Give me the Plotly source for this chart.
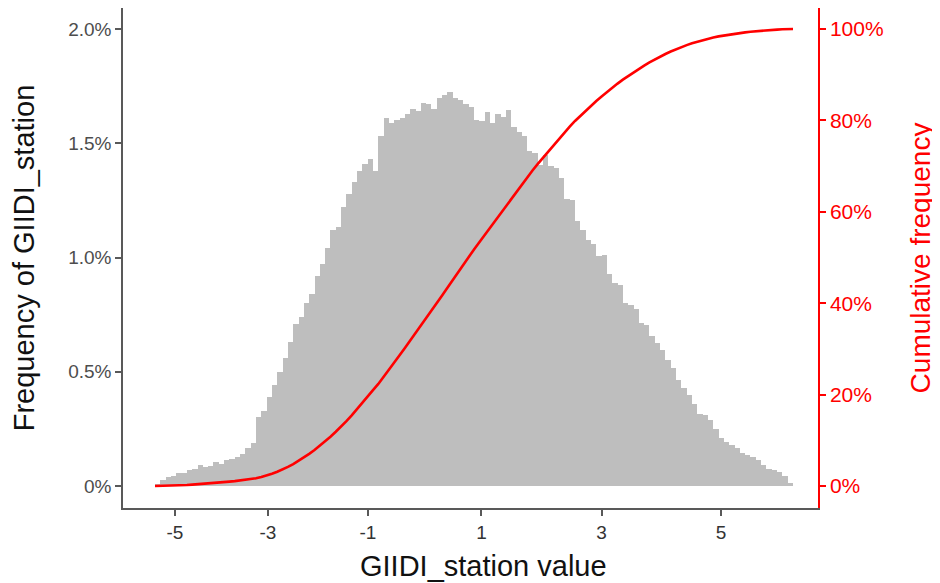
import plotly.graph_objects as go

# Histogram bin frequencies (%), left to right
FREQ = [
    0.010, 0.026, 0.038, 0.045, 0.055, 0.058, 0.070, 0.074, 0.090, 0.085,
    0.088, 0.106, 0.098, 0.114, 0.120, 0.126, 0.140, 0.165, 0.190, 0.300,
    0.330, 0.390, 0.440, 0.500, 0.560, 0.630, 0.710, 0.740, 0.800, 0.840,
    0.920, 0.970, 1.040, 1.120, 1.135, 1.220, 1.280, 1.330, 1.380, 1.410,
    1.430, 1.380, 1.530, 1.610, 1.590, 1.600, 1.610, 1.630, 1.650, 1.640,
    1.675, 1.670, 1.650, 1.700, 1.710, 1.725, 1.700, 1.690, 1.670, 1.660,
    1.600, 1.597, 1.638, 1.590, 1.630, 1.616, 1.645, 1.572, 1.550, 1.530,
    1.465, 1.456, 1.405, 1.449, 1.400, 1.390, 1.350, 1.255, 1.250, 1.160,
    1.120, 1.075, 1.060, 1.005, 1.010, 0.930, 0.890, 0.880, 0.800, 0.792,
    0.775, 0.715, 0.705, 0.655, 0.625, 0.595, 0.550, 0.515, 0.465, 0.430,
    0.400, 0.360, 0.315, 0.310, 0.290, 0.250, 0.210, 0.194, 0.180, 0.165,
    0.145, 0.136, 0.128, 0.112, 0.090, 0.075, 0.070, 0.063, 0.045, 0.015,
]

# x-axis tick labels and the bin index at which each sits
TICK_LABELS = ["-5", "-3", "-1", "1", "3", "5"]
TICK_POSITIONS = [3.26, 20.75, 39.56, 60.9, 83.48, 105.95]

LEFT_TICKS = [0, 0.5, 1.0, 1.5, 2.0]
LEFT_TICK_LABELS = ["0%", "0.5%", "1.0%", "1.5%", "2.0%"]
RIGHT_TICKS = [0, 20, 40, 60, 80, 100]
RIGHT_TICK_LABELS = ["0%", "20%", "40%", "60%", "80%", "100%"]

n = len(FREQ)
bins = list(range(n))
total = sum(FREQ)
cum = [0.0]
running = 0.0
for v in FREQ:
    running += v
    cum.append(running / total * 100)
cum_x = [-0.5] + [i + 0.5 for i in bins]

fig = go.Figure()
fig.add_trace(go.Bar(
    x=bins, y=FREQ, width=1.0,
    marker=dict(color="#BEBEBE", line=dict(width=0)),
    showlegend=False, hoverinfo="x+y",
))
fig.add_trace(go.Scatter(
    x=cum_x, y=cum, mode="lines", yaxis="y2",
    line=dict(color="#FF0000", width=2.6),
    showlegend=False,
))

font_family = "Liberation Sans, Arial, sans-serif"
fig.update_layout(
    width=940, height=583,
    margin=dict(l=115, r=130, t=0, b=83, autoexpand=False),
    paper_bgcolor="white", plot_bgcolor="white",
    bargap=0,
    font=dict(family=font_family, size=19, color="#4D4D4D"),
    xaxis=dict(
        range=[-6.52, 124.2], automargin=False,
        tickmode="array", tickvals=TICK_POSITIONS, ticktext=TICK_LABELS,
        showgrid=False, zeroline=False,
        showline=True, linecolor="#595959", linewidth=1.5, mirror=True,
        ticks="outside", ticklen=6, tickcolor="#595959", tickwidth=1.5,
        tickfont=dict(size=19, color="#333333"),
    ),
    yaxis=dict(
        range=[-0.0963, 2.092], automargin=False,
        tickmode="array", tickvals=LEFT_TICKS, ticktext=LEFT_TICK_LABELS,
        showgrid=False, zeroline=False,
        showline=True, linecolor="#595959", linewidth=1.5, mirror=True,
        ticks="outside", ticklen=6, tickcolor="#595959", tickwidth=1.5,
        tickfont=dict(size=19, color="#4D4D4D"),
        title=dict(text="Frequency of GIIDI_station", font=dict(size=29, color="#111111"), standoff=30),
    ),
    yaxis2=dict(
        range=[-4.815, 104.6], automargin=False,
        overlaying="y", side="right",
        tickmode="array", tickvals=RIGHT_TICKS, ticktext=RIGHT_TICK_LABELS,
        showgrid=False, zeroline=False,
        showline=True, linecolor="#FF0000", linewidth=1.5,
        ticks="outside", ticklen=6, tickcolor="#FF0000", tickwidth=1.5,
        tickfont=dict(size=21, color="#FF0000"),
        title=dict(text="Cumulative frequency", font=dict(size=28, color="#FF0000"), standoff=28),
    ),
    annotations=[dict(
        text="GIIDI_station value", xref="paper", yref="paper",
        x=0.519, y=-0.116, xanchor="center", yanchor="middle",
        showarrow=False, font=dict(size=29, color="#111111"),
    )],
)

fig.write_html("out.html")
